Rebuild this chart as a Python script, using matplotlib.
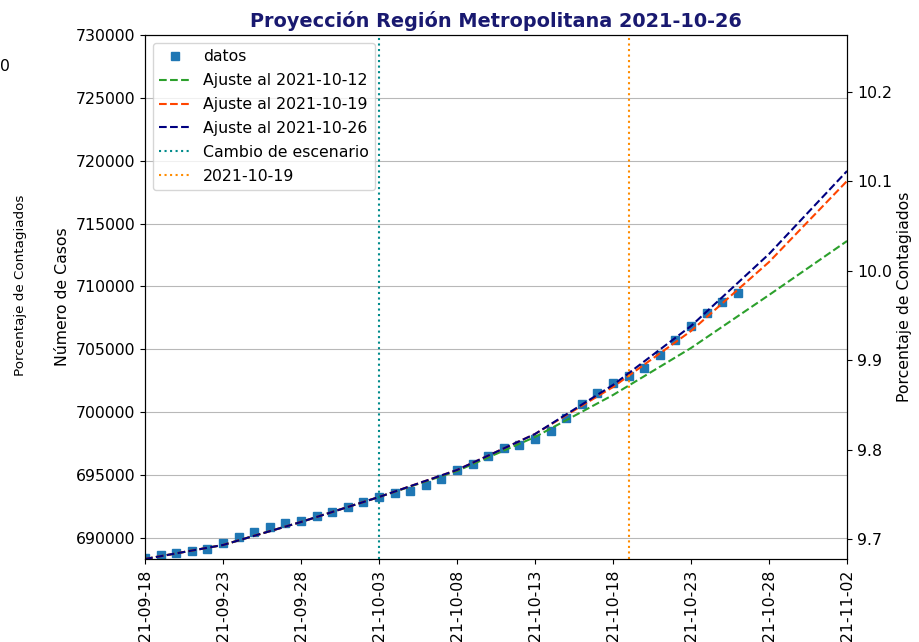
import numpy as np
import pandas as pd
import matplotlib
matplotlib.use("Agg")
import matplotlib.pyplot as plt
import matplotlib.dates as mdates

plt.rcParams['font.size'] = 11.3

poblacion = 7112500

# casos acumulados diarios
fechas = pd.date_range("2021-09-18", "2021-10-26", freq="D")
casos = [688410, 688648, 688767, 688926, 689125, 689602, 690040, 690437,
         690875, 691193, 691312, 691710, 692028, 692465, 692823, 693260,
         693578, 693737, 694175, 694692, 695407, 695885, 696521, 697117,
         697356, 697872, 698509, 699542, 700616, 701530, 702326, 702882,
         703479, 704552, 705745, 706858, 707892, 708767, 709443]

# curvas de ajuste evaluadas cada 5 dias
fechas_ajuste = pd.date_range("2021-09-18", "2021-11-02", freq="5D")
ajuste_1012 = [688330, 689444, 691272, 693260, 695328, 698032, 701371,
               705109, 709324, 713618]
ajuste_1019 = [688330, 689444, 691272, 693260, 695407, 698270, 702008,
               706460, 711947, 718390]
ajuste_1026 = [688330, 689444, 691272, 693260, 695407, 698270, 702167,
               706858, 712583, 719183]

cambio_escenario = pd.Timestamp("2021-10-03")
fecha_ref = pd.Timestamp("2021-10-19")

fig = plt.figure(figsize=(9.19, 6.42), dpi=100)
ax = fig.add_axes([0.1578, 0.1293, 0.9217 - 0.1578, 0.9455 - 0.1293])

ax.plot(fechas, casos, 's', color='tab:blue', markersize=6, label='datos')
ax.plot(fechas_ajuste, ajuste_1012, '--', color='tab:green', lw=1.5, label='Ajuste al 2021-10-12')
ax.plot(fechas_ajuste, ajuste_1019, '--', color='orangered', lw=1.5, label='Ajuste al 2021-10-19')
ax.plot(fechas_ajuste, ajuste_1026, '--', color='navy', lw=1.5, label='Ajuste al 2021-10-26')
ax.axvline(cambio_escenario, ls=':', color='darkcyan', lw=1.5, label='Cambio de escenario')
ax.axvline(fecha_ref, ls=':', color='darkorange', lw=1.5, label='2021-10-19')

ax.set_xlim(pd.Timestamp("2021-09-18"), pd.Timestamp("2021-11-02"))
ax.set_ylim(688330, 730000)
ax.set_yticks(np.arange(690000, 730001, 5000))
ax.set_xticks(pd.date_range("2021-09-18", "2021-11-02", freq="5D"))
ax.xaxis.set_major_formatter(mdates.DateFormatter("%Y-%m-%d"))
plt.setp(ax.get_xticklabels(), rotation=90)
ax.grid(axis='y', color='0.72')
ax.set_ylabel("Número de Casos")
ax.legend(loc='upper left', labelspacing=0.57)
ax.set_title("Proyección Región Metropolitana 2021-10-26", fontweight='bold',
             color='midnightblue', fontsize=13.9)

ax2 = ax.twinx()
ax2.set_ylim(688330 / poblacion * 100, 730000 / poblacion * 100)
ax2.set_ylabel("Porcentaje de Contagiados")

# restos del panel vecino
fig.text(0.0, 0.89, "0", fontsize=11.3)
fig.text(0.022, 0.555, "Porcentaje de Contagiados", rotation=90,
         ha='center', va='center', fontsize=9.7)

fig.savefig("out.png", dpi=100)
